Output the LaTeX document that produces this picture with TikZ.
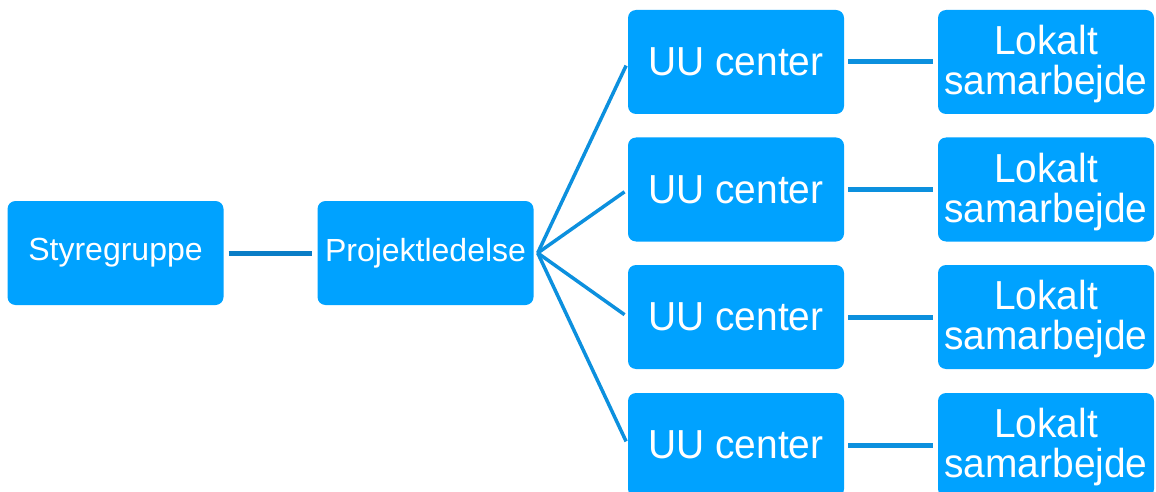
\documentclass[tikz,border=0pt]{standalone}
\usepackage{fontspec}
\setmainfont{Liberation Sans}
\newfontfamily\bigboxfont[FakeStretch=0.96]{Liberation Sans}
\newfontfamily\smallboxfont{Liberation Sans}
\definecolor{boxblue}{HTML}{00A2FF}
\definecolor{linkblue}{HTML}{0C90DE}
\definecolor{darklink}{HTML}{0A7DC6}
\tikzset{
  orgbox/.style={fill=boxblue, text=white, rounded corners=8pt,
    minimum width=216pt, minimum height=104pt, inner sep=0pt, align=center},
  smalltext/.style={font=\smallboxfont\fontsize{32}{37}\selectfont},
  bigtext/.style={font=\bigboxfont\fontsize{40.5}{40}\selectfont},
  link/.style={draw=linkblue, line width=5pt},
  fanlink/.style={draw=linkblue, line width=3.5pt},
}
\begin{document}
\begin{tikzpicture}[x=1pt,y=-1pt]
\useasboundingbox (0,0) rectangle (1156,492);
\clip (0,0) rectangle (1156,492);

\node[orgbox, smalltext] (styre) at (115.5,253) {Styregruppe};
\node[orgbox, smalltext] (projekt) at (425.5,253) {Projektledelse};
\draw[link, draw=darklink, shorten <=5pt, shorten >=5pt] (styre) -- (projekt); % styre-projekt

\coordinate (fan) at ([xshift=4pt]projekt.east);

% UU center -- lokalt samarbejde
\foreach \i/\y in {1/62,2/189.5,3/317,4/445} {
  \node[orgbox, bigtext] (uu\i) at (736,\y) {UU center};
  \node[orgbox, bigtext, text depth=4pt] (lokalt\i) at (1046,\y) {Lokalt\\samarbejde};
  \draw[link, shorten <=4pt, shorten >=5pt] (uu\i) -- (lokalt\i);
  \draw[fanlink, shorten >=4pt] (fan) -- (uu\i.west);
}
\end{tikzpicture}
\end{document}
